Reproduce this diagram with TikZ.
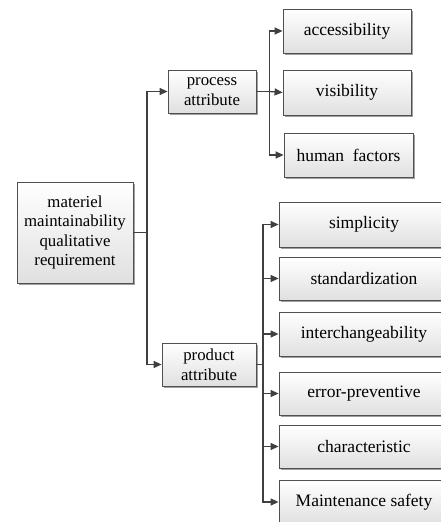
\documentclass[tikz,border=0pt]{standalone}
\usepackage{fontspec}
\setmainfont{Liberation Serif}
\usetikzlibrary{arrows.meta,shadows}
\definecolor{boxline}{HTML}{505050}
\definecolor{boxbot}{HTML}{E0E0E0}
\definecolor{shadowc}{HTML}{A0A0A0}
\definecolor{linec}{HTML}{404040}
\begin{document}
\begin{tikzpicture}[x=1pt,y=-1pt,
  box/.style={draw=boxline, line width=0.8pt, top color=white, bottom color=boxbot,
    inner sep=0pt, align=center,
    drop shadow={shadow xshift=1.5pt, shadow yshift=-1.5pt, fill=shadowc, opacity=1}},
  leaf/.style={box, minimum height=44pt, font=\fontsize{17.5}{20}\selectfont},
  mid/.style={box, minimum height=43pt, font=\fontsize{16.8}{19.5}\selectfont},
  conn/.style={draw=linec, line width=1.3pt},
  arr/.style={conn, -{Triangle[length=8pt,width=7pt]}}]
\useasboundingbox (0,0) rectangle (441,522);
\clip (0,0) rectangle (441,522);

\node[box, minimum width=116pt, minimum height=101pt, font=\fontsize{16.8}{19.5}\selectfont] (main) at (75,232.5) {materiel\\maintainability\\qualitative\\requirement};
\node[mid, minimum width=88pt] (proc) at (212,91.5) {process\\attribute};
\node[mid, minimum width=94pt] (prod) at (209,364.5) {product\\attribute};

\node[leaf, minimum width=128pt] (acc) at (347,31) {accessibility};
\node[leaf, minimum width=128pt, minimum height=45pt] (vis) at (347,92.5) {visibility};
\node[leaf, minimum width=129pt] (hum) at (348.5,155) {human\ \ factors};

\node[leaf, minimum width=170pt, minimum height=45pt] (sim) at (364,224.5) {simplicity};
\node[leaf, minimum width=170pt, minimum height=43pt] (std) at (364,278.5) {standardization};
\node[leaf, minimum width=170pt, minimum height=44pt] (int) at (364,334) {interchangeability};
\node[leaf, minimum width=170pt, minimum height=43pt] (err) at (364,393.5) {error-preventive};
\node[leaf, minimum width=170pt, minimum height=43pt] (chr) at (364,446.5) {characteristic};
\node[leaf, minimum width=170pt, minimum height=44pt] (ms) at (364,502) {Maintenance safety};

\coordinate (j1) at (147,232.5);
\coordinate (j2) at (269.5,91.5);
\coordinate (j3) at (263,364.5);

\draw[conn] (main.east) -- (j1);
\draw[arr] (j1) |- (proc.west);
\draw[arr] (j1) |- (prod.west);

\draw[conn] (proc.east) -- (j2);
\draw[arr] (j2) |- (acc.west);
\draw[arr] (j2) -- (vis.west);
\draw[arr] (j2) |- (hum.west);

\draw[conn] (prod.east) -- (j3);
\draw[arr] (j3) |- (sim.west);
\draw[arr] (j3) |- (std.west);
\draw[arr] (j3) |- (int.west);
\draw[arr] (j3) |- (err.west);
\draw[arr] (j3) |- (chr.west);
\draw[arr] (j3) |- (ms.west);
\end{tikzpicture}
\end{document}
